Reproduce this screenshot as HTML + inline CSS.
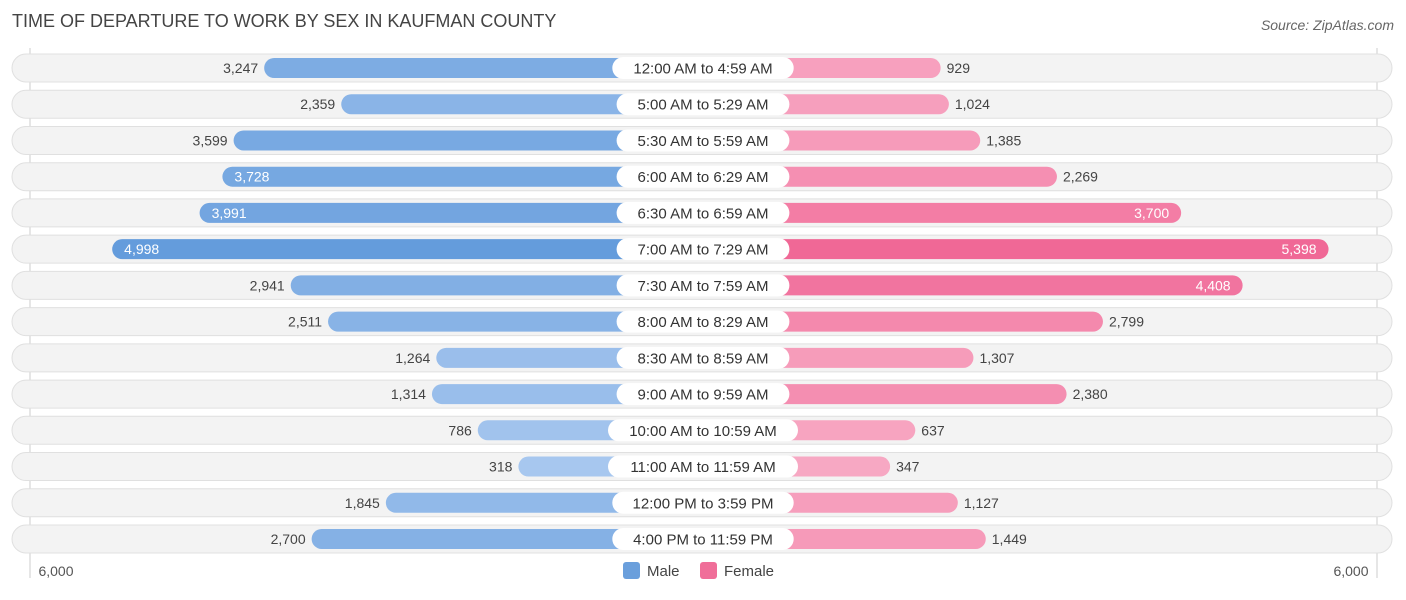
<!DOCTYPE html>
<html><head><meta charset="utf-8"><style>
body{margin:0;background:#fff;font-family:"Liberation Sans",Arial,sans-serif;}
svg text{font-family:"Liberation Sans",Arial,sans-serif;}
</style></head><body>
<svg id="c" width="1406" height="595" viewBox="0 0 1406 595" xmlns="http://www.w3.org/2000/svg">
<text x="12" y="27" font-size="18" fill="#444">TIME OF DEPARTURE TO WORK BY SEX IN KAUFMAN COUNTY</text>
<text x="1394" y="30" font-size="14" fill="#666" font-style="italic" text-anchor="end">Source: ZipAtlas.com</text>
<line x1="30" y1="48" x2="30" y2="578" stroke="#ccc" stroke-width="1"/>
<line x1="1377" y1="48" x2="1377" y2="578" stroke="#ccc" stroke-width="1"/>
<g id="rows"></g>
<text x="56" y="576" font-size="14" fill="#555" text-anchor="middle">6,000</text>
<text x="1351" y="576" font-size="14" fill="#555" text-anchor="middle">6,000</text>
<g>
<rect x="623" y="562" width="17" height="17" rx="3" fill="#6a9fdc"/>
<text x="647" y="576" font-size="15" fill="#444">Male</text>
<rect x="700" y="562" width="17" height="17" rx="3" fill="#f06e99"/>
<text x="724" y="576" font-size="15" fill="#444">Female</text>
</g>
</svg>
<script>
const categories=["12:00 AM to 4:59 AM","5:00 AM to 5:29 AM","5:30 AM to 5:59 AM","6:00 AM to 6:29 AM","6:30 AM to 6:59 AM","7:00 AM to 7:29 AM","7:30 AM to 7:59 AM","8:00 AM to 8:29 AM","8:30 AM to 8:59 AM","9:00 AM to 9:59 AM","10:00 AM to 10:59 AM","11:00 AM to 11:59 AM","12:00 PM to 3:59 PM","4:00 PM to 11:59 PM"];
const maleValues=[3247,2359,3599,3728,3991,4998,2941,2511,1264,1314,786,318,1845,2700];
const femaleValues=[929,1024,1385,2269,3700,5398,4408,2799,1307,2380,637,347,1127,1449];
const NS="http://www.w3.org/2000/svg";
const cx=703, off=157, k=0.0868, y0=68, dy=36.23;
const xScale=v=>off+k*v;
const yScale=i=>y0+i*dy;
const g=document.getElementById('rows');
function mk(t,a){const e=document.createElementNS(NS,t);for(const key in a)e.setAttribute(key,a[key]);return e;}
function mix(a,b,t){return 'rgb('+a.map((x,i)=>Math.round(x+(b[i]-x)*t)).join(',')+')';}
const fmt=v=>v.toLocaleString('en-US');
categories.forEach((cat,i)=>{
  const y=yScale(i);
  const bg=mk('rect',{x:12,y:y-14,width:1380,height:28,rx:14,fill:'#f3f3f3',stroke:'#e0e0e0'});
  
  
  g.appendChild(bg);
  const mv=maleValues[i], fv=femaleValues[i];
  const mw=xScale(mv), fw=xScale(fv);
  const mt=Math.min(mv/5000,1), ft=Math.min(fv/5400,1);
  const mb=mk('rect',{x:cx-mw,y:y-10,width:mw,height:20,rx:10,fill:mix([172,202,240],[100,156,220],mt)});
  
  
  g.appendChild(mb);
  const fb=mk('rect',{x:cx,y:y-10,width:fw,height:20,rx:10,fill:mix([248,172,198],[240,104,150],ft)});
  
  
  g.appendChild(fb);
  const mIn=mv>=3700, fIn=fv>=3700;
  const ml=mk('text',{x:mIn?cx-mw+12:cx-mw-6,y:y+5,'font-size':14,fill:mIn?'#fff':'#444','text-anchor':mIn?'start':'end'});
  ml.textContent=fmt(mv);
  
  
  g.appendChild(ml);
  const fl=mk('text',{x:fIn?cx+fw-12:cx+fw+6,y:y+5,'font-size':14,fill:fIn?'#fff':'#444','text-anchor':fIn?'end':'start'});
  fl.textContent=fmt(fv);
  
  
  g.appendChild(fl);
  const lw=cat.length*8.6+18;
  const lb=mk('rect',{x:cx-lw/2,y:y-11,width:lw,height:22,rx:11,fill:'#fff'});
  
  
  g.appendChild(lb);
  const lt=mk('text',{x:cx,y:y+5.5,'font-size':15,fill:'#333','text-anchor':'middle'});
  lt.textContent=cat;
  
  
  g.appendChild(lt);
});
</script>
</body></html>
